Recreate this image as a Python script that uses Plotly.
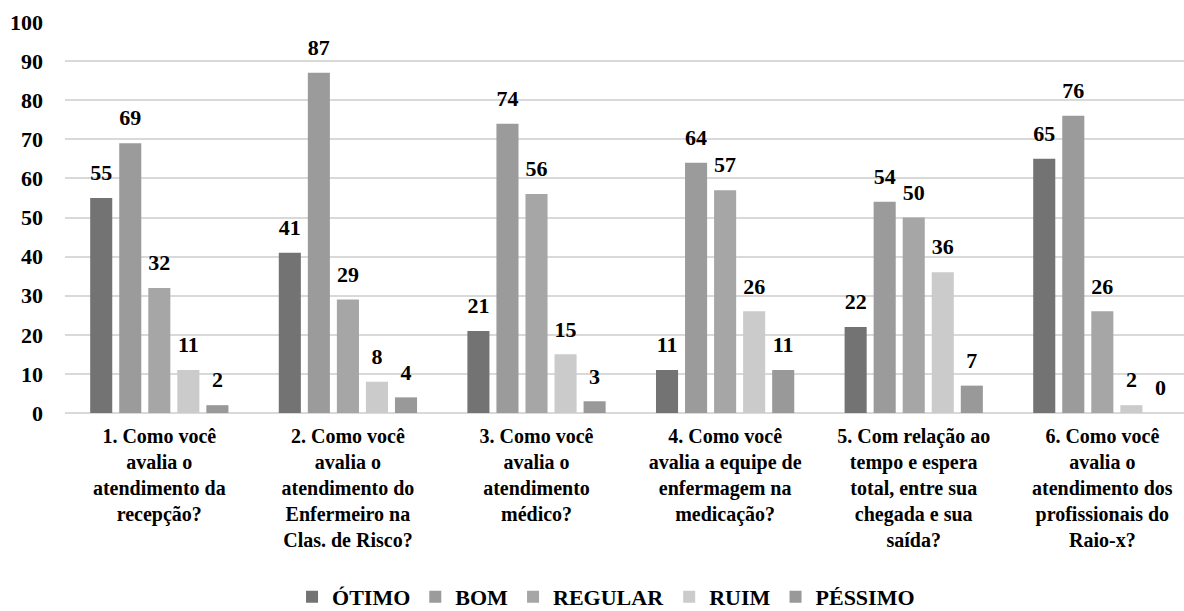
import plotly.graph_objects as go

# Survey questions (x-axis categories)
categories = [
    "1. Como você<br>avalia o<br>atendimento da<br>recepção?",
    "2. Como você<br>avalia o<br>atendimento do<br>Enfermeiro na<br>Clas. de Risco?",
    "3. Como você<br>avalia o<br>atendimento<br>médico?",
    "4. Como você<br>avalia a equipe de<br>enfermagem na<br>medicação?",
    "5. Com relação ao<br>tempo e espera<br>total, entre sua<br>chegada e sua<br>saída?",
    "6. Como você<br>avalia o<br>atendimento dos<br>profissionais do<br>Raio-x?",
]

# Answer counts per rating
otimo = [55, 41, 21, 11, 22, 65]
bom = [69, 87, 74, 64, 54, 76]
regular = [32, 29, 56, 57, 50, 26]
ruim = [11, 8, 15, 26, 36, 2]
pessimo = [2, 4, 3, 11, 7, 0]

series = [
    ("ÓTIMO", otimo, "#737373"),
    ("BOM", bom, "#9b9b9b"),
    ("REGULAR", regular, "#a6a6a6"),
    ("RUIM", ruim, "#cbcbcb"),
    ("PÉSSIMO", pessimo, "#999999"),
]

y_ticks = [0, 10, 20, 30, 40, 50, 60, 70, 80, 90, 100]

FONT = "Liberation Serif"
GAP = 0.23


def bold(s):
    return "<br>".join(f"<b>{part}</b>" for part in s.split("<br>"))


fig = go.Figure()
for i, (name, vals, color) in enumerate(series):
    fig.add_trace(go.Bar(
        name=f"<b>{name}</b>", x=categories, y=vals,
        marker=dict(color=color, line=dict(width=0)),
        offsetgroup=str(i), alignmentgroup="a",
        hoverinfo="skip",
    ))
# value labels, grouped alongside the bars
for i, (name, vals, color) in enumerate(series):
    fig.add_trace(go.Scatter(
        x=categories, y=vals, mode="markers+text",
        text=[f"<b>{v}</b>" for v in vals],
        textposition="top center",
        textfont=dict(family=FONT, size=22, color="#000000"),
        marker=dict(size=18, opacity=0),
        offsetgroup=str(i), alignmentgroup="a",
        showlegend=False, hoverinfo="skip", cliponaxis=False,
    ))

fig.update_layout(
    width=1184, height=611,
    margin=dict(l=65, r=0, t=22, b=198),
    paper_bgcolor="white", plot_bgcolor="white",
    barmode="group", bargap=GAP, bargroupgap=0.24,
    scattermode="group", scattergap=GAP,
    font=dict(family=FONT, size=20, color="#000000"),
    legend=dict(
        orientation="h", x=0.4835, xanchor="center",
        yref="container", y=0.023, yanchor="middle",
        font=dict(family=FONT, size=22, color="#000000"),
        itemwidth=30, traceorder="normal",
    ),
    xaxis=dict(
        range=[-0.5, 5.433], showgrid=False, zeroline=False, showline=False,
        tickvals=categories, ticktext=[bold(c) for c in categories],
        tickfont=dict(family=FONT, size=20, color="#000000"),
        ticklabelstandoff=9,
    ),
    yaxis=dict(
        range=[0, 100], tickvals=y_ticks,
        ticktext=[f"<b>{t}</b>" for t in y_ticks],
        showgrid=True, gridcolor="#d9d9d9", gridwidth=1.5,
        zeroline=True, zerolinecolor="#d9d9d9", zerolinewidth=1.5,
        showline=False,
        tickfont=dict(family=FONT, size=22, color="#000000"),
        ticklabelstandoff=21,
    ),
)

fig.write_html("out.html")
